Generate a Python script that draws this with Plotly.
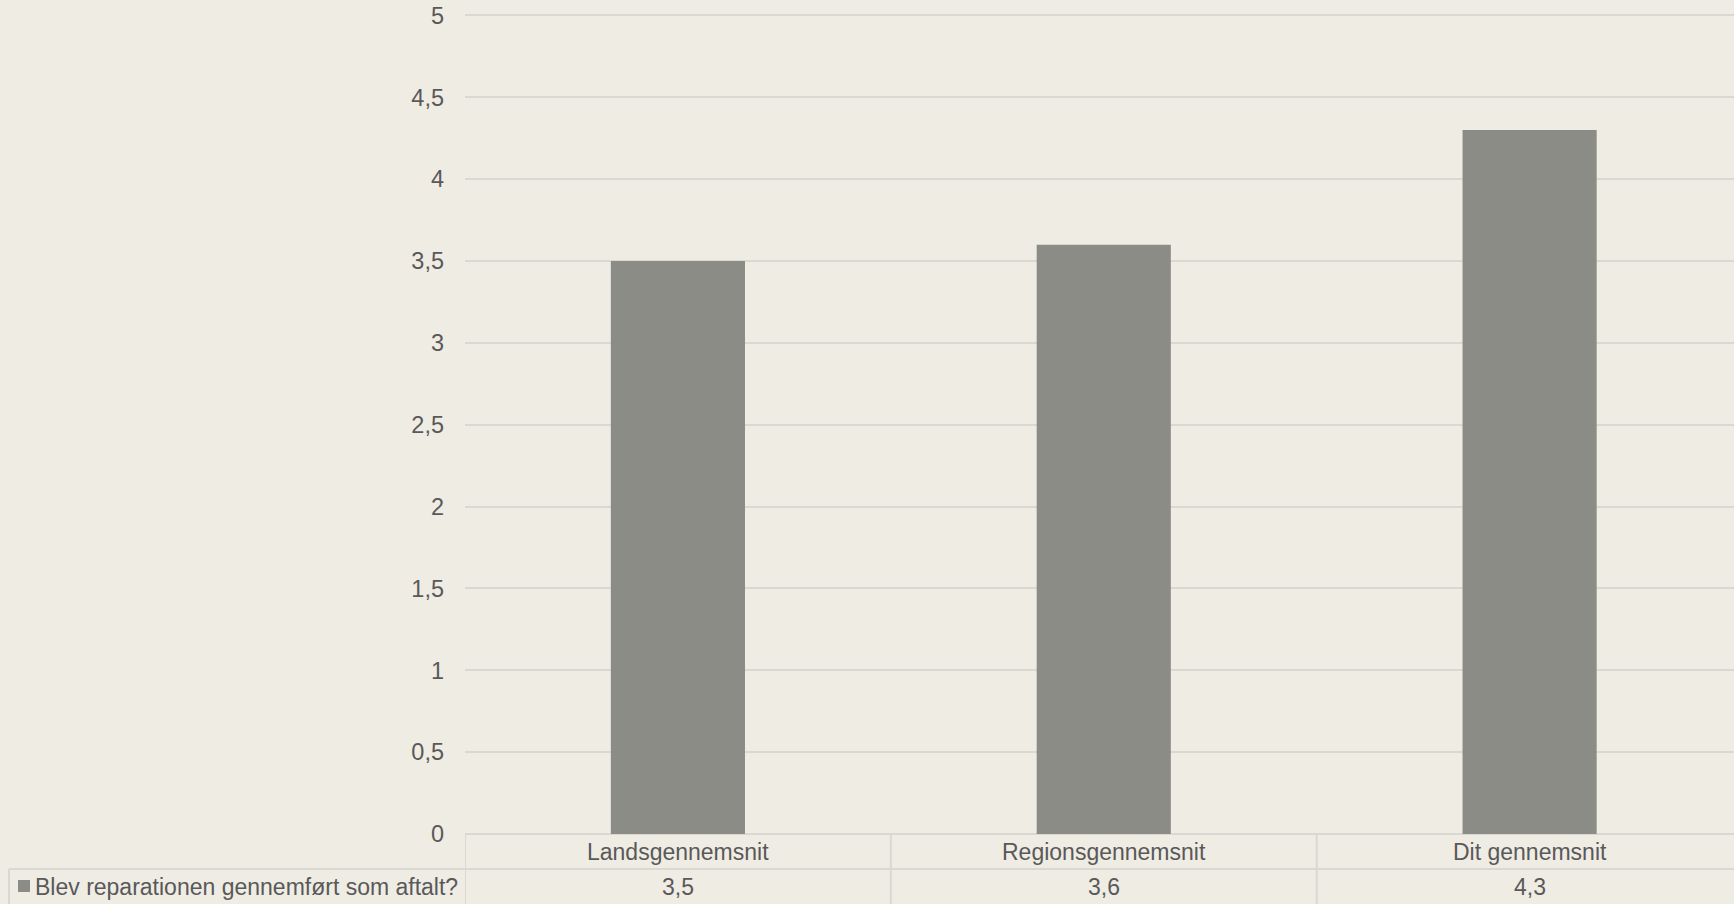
import plotly.graph_objects as go

# Data
categories = ["Landsgennemsnit", "Regionsgennemsnit", "Dit gennemsnit"]
values = [3.5, 3.6, 4.3]
series_name = "Blev reparationen gennemført som aftalt?"
y_ticks = [0, 0.5, 1, 1.5, 2, 2.5, 3, 3.5, 4, 4.5, 5]


def fmt(v):
    s = f"{v:g}"
    return s.replace(".", ",")


# Style
W, H = 1734, 904
M_L, M_R, M_T, M_B = 465, 0, 13, 70
BG = "#EFECE4"
BAR = "#8B8C85"
GRID = "#DAD8D2"
TXT = "#595959"
FONT = "Liberation Sans, Arial, sans-serif"
FS_TABLE = 23
FS_TICK = 23.5

plot_w = W - M_L - M_R
plot_h = H - M_T - M_B


def px_x(px):
    """Pixel column to paper x."""
    return (px - M_L) / plot_w


def px_y(py):
    """Pixel row to paper y."""
    return (H - M_B - py) / plot_h


fig = go.Figure(
    go.Bar(
        x=list(range(len(categories))),
        y=values,
        marker=dict(color=BAR, line=dict(width=0)),
        name=series_name,
        hoverinfo="skip",
    )
)

shapes = []
annotations = []

# data table under the plot
row1_top, row1_bot, row2_bot = H - M_B, H - M_B + 35, H
# horizontal rule between the category row and the value row
shapes.append(dict(type="line", xref="paper", yref="paper",
                   x0=px_x(9), x1=1, y0=px_y(row1_bot), y1=px_y(row1_bot),
                   line=dict(color=GRID, width=2)))
# left border of the series label cell
shapes.append(dict(type="line", xref="paper", yref="paper",
                   x0=px_x(9), x1=px_x(9), y0=px_y(row1_bot), y1=px_y(row2_bot),
                   line=dict(color=GRID, width=2)))
# column separators
for i in range(len(categories)):
    shapes.append(dict(type="line", xref="x", yref="paper",
                       x0=i - 0.5, x1=i - 0.5, y0=0, y1=px_y(row2_bot),
                       line=dict(color=GRID, width=2)))

for i, (c, v) in enumerate(zip(categories, values)):
    annotations.append(dict(x=i, y=px_y((row1_top + row1_bot) / 2), xref="x", yref="paper",
                            text=c, showarrow=False, xanchor="center", yanchor="middle",
                            font=dict(family=FONT, size=FS_TABLE, color=TXT)))
    annotations.append(dict(x=i, y=px_y((row1_bot + row2_bot) / 2), xref="x", yref="paper",
                            text=fmt(v), showarrow=False, xanchor="center", yanchor="middle",
                            font=dict(family=FONT, size=FS_TABLE, color=TXT)))

# legend key and series label
shapes.append(dict(type="rect", xref="paper", yref="paper",
                   x0=px_x(18), x1=px_x(30), y0=px_y(892), y1=px_y(880),
                   fillcolor=BAR, line=dict(width=0)))
annotations.append(dict(x=px_x(33), y=px_y((row1_bot + row2_bot) / 2), xref="paper", yref="paper",
                        text=series_name, showarrow=False, xanchor="left", yanchor="middle",
                        font=dict(family=FONT, size=FS_TABLE, color=TXT)))

fig.update_layout(
    width=W, height=H,
    margin=dict(l=M_L, r=M_R, t=M_T, b=M_B, pad=0),
    paper_bgcolor=BG, plot_bgcolor=BG,
    showlegend=False,
    bargap=0.685,
    shapes=shapes,
    annotations=annotations,
    font=dict(family=FONT, size=FS_TABLE, color=TXT),
    xaxis=dict(range=[-0.5, 2.48], showticklabels=False,
               showgrid=False, zeroline=False, showline=False, fixedrange=True),
    yaxis=dict(range=[0, 5.015], tickvals=y_ticks, ticktext=[fmt(t) for t in y_ticks],
               showgrid=True, gridcolor=GRID, gridwidth=2,
               zeroline=True, zerolinecolor=GRID, zerolinewidth=2,
               showline=False, ticks="", ticklabelstandoff=20,
               tickfont=dict(family=FONT, size=FS_TICK, color=TXT), fixedrange=True),
)

fig.write_html("out.html", config={"displayModeBar": False})
